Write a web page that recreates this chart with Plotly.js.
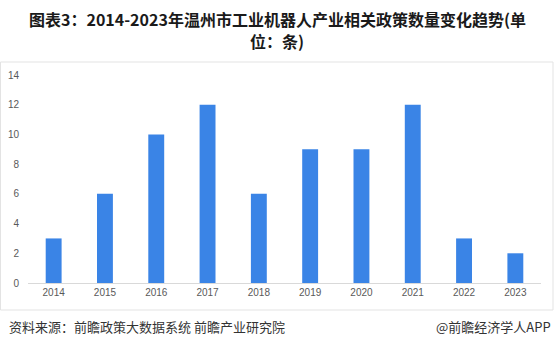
<!DOCTYPE html>
<html>
<head>
<meta charset="utf-8">
<script src="https://cdn.plot.ly/plotly-3.0.1.min.js"></script>
<style>html,body{margin:0;padding:0;background:#fff;}#chart{width:554px;height:351px;}</style>
</head>
<body>
<div id="chart"></div>
<script>
const years = ['2014','2015','2016','2017','2018','2019','2020','2021','2022','2023'];
const counts = [3, 6, 10, 12, 6, 9, 9, 12, 3, 2];
const yTicks = [0, 2, 4, 6, 8, 10, 12, 14];
const titleLine1 = '<b>图表3：2014-2023年温州市工业机器人产业相关政策数量变化趋势(单</b>';
const titleLine2 = '<b>位：条)</b>';
const sourceText = '资料来源：前瞻政策大数据系统 前瞻产业研究院';
const brandText = '@前瞻经济学人APP';

const W = 554, H = 351;
const L = 28, R = 13, T = 75, B = 68;
const pw = W - L - R, ph = H - T - B;
const px = v => (v - L) / pw;
const py = v => (H - B - v) / ph;

const trace = {
  type: 'bar', x: years, y: counts,
  marker: {color: '#3a84e6'},
  hoverinfo: 'skip'
};
const titleFont = {family: '"Noto Sans CJK SC", sans-serif', size: 16, color: '#1a1a1a'};
const layout = {
  width: W, height: H,
  margin: {l: L, r: R, t: T, b: B, pad: 0},
  paper_bgcolor: '#fff', plot_bgcolor: '#fff',
  bargap: 0.69,
  showlegend: false,
  font: {family: '"Liberation Sans", Arial, sans-serif', color: '#595959', size: 10},
  xaxis: {
    type: 'category', showgrid: false, zeroline: false,
    showline: true, linecolor: '#d9d9d9', linewidth: 1,
    ticks: '', tickfont: {size: 10, color: '#595959'},
    fixedrange: true
  },
  yaxis: {
    range: [0, 14], tickvals: yTicks, showgrid: false, zeroline: false,
    showline: false, ticks: '', tickfont: {size: 10, color: '#595959'},
    ticklabelstandoff: 8, fixedrange: true
  },
  shapes: [{
    type: 'rect', xref: 'paper', yref: 'paper',
    x0: px(0.5), x1: px(553), y0: py(310), y1: py(62),
    line: {color: '#e3e3e3', width: 1}, fillcolor: 'rgba(0,0,0,0)', layer: 'below'
  }],
  annotations: [
    {text: titleLine1, xref: 'paper', yref: 'paper', x: px(277), y: py(19),
     xanchor: 'center', yanchor: 'middle', showarrow: false, font: titleFont},
    {text: titleLine2, xref: 'paper', yref: 'paper', x: px(277), y: py(41),
     xanchor: 'center', yanchor: 'middle', showarrow: false, font: titleFont},
    {text: sourceText, xref: 'paper', yref: 'paper', x: px(7), y: py(326),
     xanchor: 'left', yanchor: 'middle', showarrow: false,
     font: {family: '"Noto Sans CJK SC", sans-serif', size: 13, color: '#333'}},
    {text: brandText, xref: 'paper', yref: 'paper', x: px(553), y: py(326),
     xanchor: 'right', yanchor: 'middle', showarrow: false,
     font: {family: '"Noto Sans CJK SC", sans-serif', size: 13, color: '#333'}}
  ]
};
Plotly.newPlot('chart', [trace], layout, {displayModeBar: false, staticPlot: true});
</script>
</body>
</html>
